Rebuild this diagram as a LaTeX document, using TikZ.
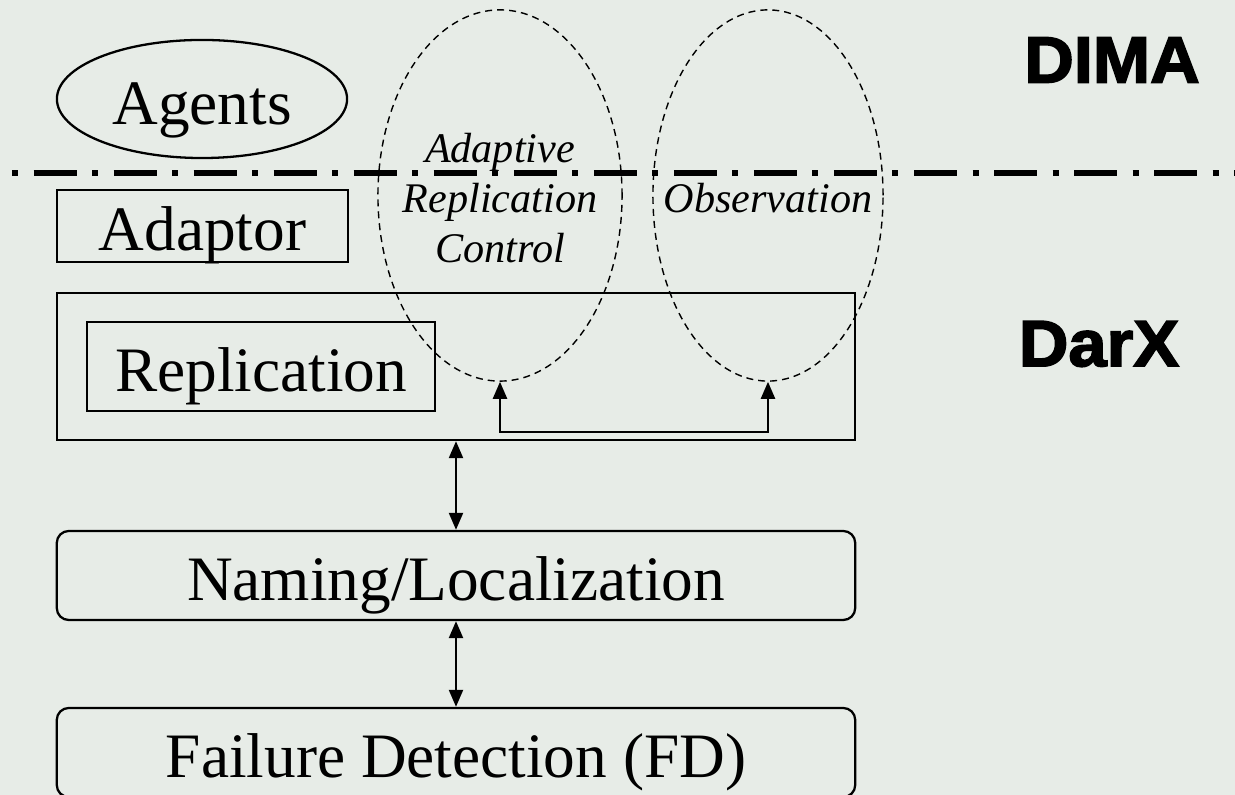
\documentclass[tikz,border=0pt]{standalone}
\usepackage{fontspec}
\setmainfont{Liberation Serif}
\newfontfamily\tagfont{Liberation Sans}[FakeBold=2.5,FakeStretch=1.05]
\usetikzlibrary{shapes.geometric,arrows.meta}
\definecolor{bgcol}{RGB}{231,236,231}

\begin{document}
\begin{tikzpicture}[x=0.01cm,y=-0.01cm,
    layer/.style={draw,line width=0.65pt,inner sep=0pt,font=\fontsize{18}{20}\selectfont,
      text height=0.6cm,text depth=0.1cm},
    roundlayer/.style={layer,rounded corners=0.12cm},
    zone/.style={ellipse,draw,line width=0.4pt,dash pattern=on 0.07cm off 0.05cm,inner sep=0pt},
    zonetext/.style={font=\fontsize{12}{14.2}\selectfont\itshape,align=center,inner sep=0pt,yshift=-0.03cm},
    tag/.style={font=\fontsize{18.6}{20}\selectfont\tagfont\bfseries},
    link/.style={line width=0.65pt,{Triangle[length=0.17cm,width=0.14cm]}-{Triangle[length=0.17cm,width=0.14cm]}}
  ]
      % background
      \fill[bgcol] (0,0) rectangle (1235,795);
      \useasboundingbox (0,0) rectangle (1235,795);

      % DIMA side
      \node [layer,ellipse,minimum width=2.9cm,minimum height=1.18cm] (agents) at (202,99) {Agents};
      \node [tag] (dima) at (1112,60) {DIMA};

      % separation line
      \coordinate (sepl) at (12,173);
      \coordinate (sepr) at (1235,173);
      \draw[line width=0.06cm,dash pattern=on 0.06cm off 0.155cm on 0.43cm off 0.155cm] (sepl) -- (sepr);

      % DarX side
      \node [layer,minimum width=2.91cm,minimum height=0.72cm] (adaptor) at (202.5,226) {Adaptor};
      \node [layer,minimum width=7.98cm,minimum height=1.47cm] (darx) at (456,366.5) {};
      \node [layer,minimum width=3.48cm,minimum height=0.89cm] (repl) at (261,366.5) {Replication};
      \node [tag] (darxtag) at (1099,344) {DarX};

      \node [zone,minimum width=2.44cm,minimum height=3.71cm] (arc) at (500,195.5) {};
      \node [zonetext] (arctext) at (arc.center) {Adaptive\\Replication\\Control};
      \node [zone,minimum width=2.3cm,minimum height=3.71cm] (obs) at (768,195.5) {};
      \node [zonetext] (obstext) at (obs.center) {Observation};

      \draw[link] (arc.south) -- ++(0,50) -| (obs.south);

      \node [roundlayer,minimum width=7.98cm,minimum height=0.89cm] (naming) at (456,575.5) {Naming/Localization};
      \node [roundlayer,minimum width=7.98cm,minimum height=0.89cm] (fd) at (456,752.5) {Failure Detection (FD)};

      \draw[link] (darx) -- (naming);
      \draw[link] (naming) -- (fd);
    \end{tikzpicture}
\end{document}
